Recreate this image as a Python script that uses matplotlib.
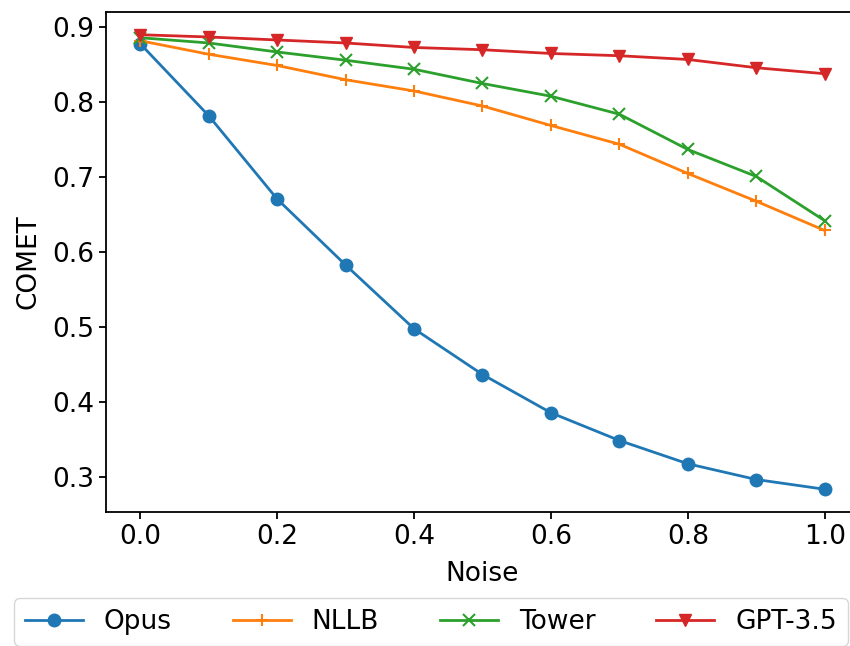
import matplotlib
matplotlib.use("Agg")
import matplotlib.pyplot as plt

# noise levels and COMET scores
noise = [0.0, 0.1, 0.2, 0.3, 0.4, 0.5, 0.6, 0.7, 0.8, 0.9, 1.0]
opus = [0.878, 0.782, 0.671, 0.583, 0.498, 0.437, 0.386, 0.349, 0.318, 0.297, 0.284]
nllb = [0.882, 0.864, 0.849, 0.830, 0.815, 0.795, 0.769, 0.744, 0.705, 0.668, 0.629]
tower = [0.886, 0.879, 0.867, 0.856, 0.844, 0.825, 0.808, 0.784, 0.737, 0.701, 0.642]
gpt = [0.890, 0.887, 0.883, 0.879, 0.873, 0.870, 0.865, 0.862, 0.857, 0.846, 0.838]

plt.rcParams['font.size'] = 19

fig = plt.figure(figsize=(8.5, 6.46), dpi=100)
# axes run slightly past the right edge, as in the reference
ax = fig.add_axes([106/850, 1 - 512/646, (859 - 106)/850, (512 - 12)/646])

ax.plot(noise, opus, marker='o', lw=2, ms=9, label='Opus')
ax.plot(noise, nllb, marker='+', lw=2, ms=9, mew=1.5, label='NLLB')
ax.plot(noise, tower, marker='x', lw=2, ms=9, mew=1.5, label='Tower')
ax.plot(noise, gpt, marker='v', lw=2, ms=9, label='GPT-3.5')

ax.set_xlabel('Noise', labelpad=8)
ax.set_ylabel('COMET', labelpad=8)
ax.set_xticks([0.0, 0.2, 0.4, 0.6, 0.8, 1.0])
ax.tick_params(labelsize=19, width=1.3, length=5)
for s in ax.spines.values():
    s.set_linewidth(1.3)

fig.legend(loc='center', bbox_to_anchor=(431/850, 1 - 622/646), ncol=4,
           fontsize=19, handlelength=2.2, columnspacing=2.3, frameon=True)

fig.savefig('out.png', dpi=100)
